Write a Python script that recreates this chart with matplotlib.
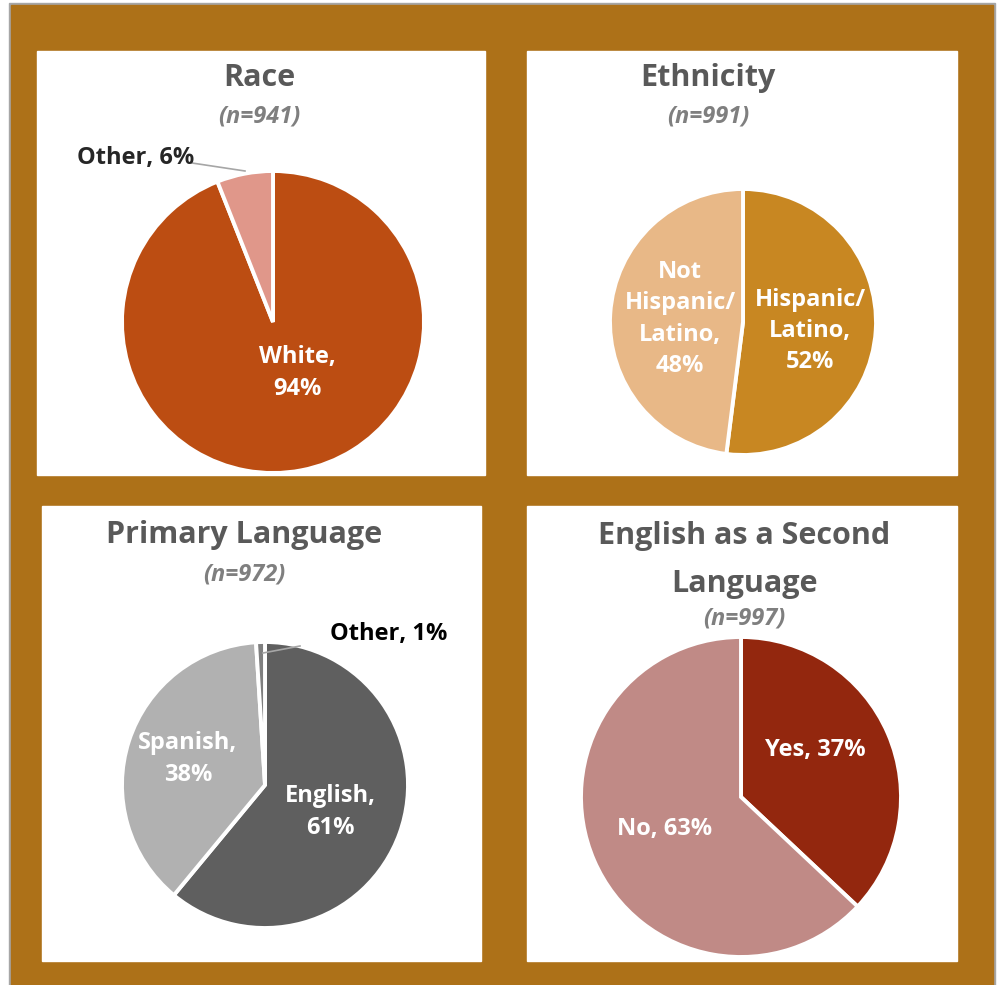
import matplotlib
matplotlib.use('Agg')
import matplotlib.pyplot as plt
from matplotlib.patches import Rectangle

W, H = 1001, 985

# demographic breakdowns
race_labels = ['White', 'Other']
race_values = [94, 6]
race_colors = ['#BC4D12', '#E0978A']

eth_labels = ['Hispanic/\nLatino', 'Not\nHispanic/\nLatino']
eth_values = [52, 48]
eth_colors = ['#C88722', '#E8B887']

lang_labels = ['English', 'Spanish', 'Other']
lang_values = [61, 38, 1]
lang_colors = ['#5F5F5F', '#B1B1B1', '#7F7F7F']

esl_labels = ['Yes', 'No']
esl_values = [37, 63]
esl_colors = ['#93270E', '#C08A86']

plt.rcParams['font.family'] = ['Open Sans', 'DejaVu Sans']

fig = plt.figure(figsize=(W / 100, H / 100), dpi=100)
fig.patch.set_facecolor('white')


def fx(x):
    return x / W


def fy(y):
    return 1 - y / H


def rect(x0, y0, x1, y1, color):
    fig.patches.append(Rectangle((fx(x0), fy(y1)), fx(x1) - fx(x0), fy(y0) - fy(y1),
                                 transform=fig.transFigure, color=color, zorder=-5))


# frame: gray rule, brown mat, four white cards
rect(9, 3, 995, 985, '#A6A6A6')
rect(11, 5, 993, 985, '#AD7118')
rect(37, 51, 485, 475, 'white')
rect(527, 51, 957, 475, 'white')
rect(42, 506, 481, 961, 'white')
rect(527, 506, 957, 961, 'white')


def title(x, y, txt, sub, sub_y):
    fig.text(fx(x), fy(y), txt, ha='center', va='center', fontsize=22,
             fontweight='bold', color='#595959', linespacing=1.75)
    fig.text(fx(x), fy(sub_y), sub, ha='center', va='center', fontsize=17,
             fontweight='bold', style='italic', color='#7F7F7F')


def pie_axes(cx, cy, r):
    ax = fig.add_axes([fx(cx - r), fy(cy + r), 2 * r / W, 2 * r / H])
    return ax


def draw_pie(ax, values, colors):
    ax.pie(values, colors=colors, startangle=90, counterclock=False,
           wedgeprops=dict(edgecolor='white', linewidth=2.8))
    ax.set_xlim(-1, 1)
    ax.set_ylim(-1, 1)
    ax.set_aspect('equal')
    ax.axis('off')


def label(ax, x, y, txt, color='white', ha='center'):
    ax.text(x, y, txt, ha=ha, va='center', fontsize=17, fontweight='bold',
            color=color, linespacing=1.4, clip_on=False)


# Race
title(259, 78, 'Race', '(n=941)', 117)
cx, cy, r = 273, 322, 151
ax = pie_axes(cx, cy, r)
draw_pie(ax, race_values, race_colors)
label(ax, 24 / r, -51 / r, '%s,\n%d%%' % (race_labels[0], race_values[0]))
label(ax, (77 - cx) / r, (cy - 158) / r, '%s, %d%%' % (race_labels[1], race_values[1]),
      color='#262626', ha='left')
ax.plot([(192 - cx) / r, (245 - cx) / r], [(cy - 163) / r, (cy - 171) / r],
        color='#A6A6A6', lw=1.2, clip_on=False)

# Ethnicity
title(708, 78, 'Ethnicity', '(n=991)', 117)
cx, cy, r = 743, 322, 133
ax = pie_axes(cx, cy, r)
draw_pie(ax, eth_values, eth_colors)
label(ax, (810 - cx) / r, (cy - 331) / r, '%s,\n%d%%' % (eth_labels[0], eth_values[0]))
label(ax, (680 - cx) / r, (cy - 319) / r, '%s,\n%d%%' % (eth_labels[1], eth_values[1]))

# Primary language
title(244, 535, 'Primary Language', '(n=972)', 575)
cx, cy, r = 265, 785, 143
ax = pie_axes(cx, cy, r)
draw_pie(ax, lang_values, lang_colors)
label(ax, (330 - cx) / r, (cy - 812) / r, '%s,\n%d%%' % (lang_labels[0], lang_values[0]))
label(ax, (188 - cx) / r, (cy - 759) / r, '%s,\n%d%%' % (lang_labels[1], lang_values[1]))
label(ax, (330 - cx) / r, (cy - 634) / r, '%s, %d%%' % (lang_labels[2], lang_values[2]),
      color='black', ha='left')
ax.plot([(263 - cx) / r, (300 - cx) / r], [(cy - 653) / r, (cy - 646) / r],
        color='#A6A6A6', lw=1.2, clip_on=False)

# English as a second language
title(744, 560, 'English as a Second\nLanguage', '(n=997)', 618)
cx, cy, r = 741, 797, 160
ax = pie_axes(cx, cy, r)
draw_pie(ax, esl_values, esl_colors)
label(ax, (815 - cx) / r, (cy - 750) / r, '%s, %d%%' % (esl_labels[0], esl_values[0]))
label(ax, (665 - cx) / r, (cy - 829) / r, '%s, %d%%' % (esl_labels[1], esl_values[1]))

fig.savefig('out.png', dpi=100)
